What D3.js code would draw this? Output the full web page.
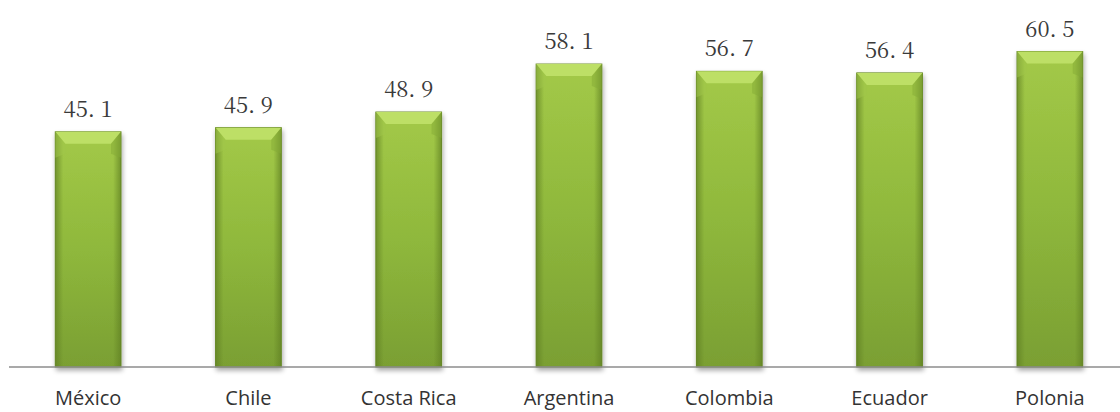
<!DOCTYPE html>
<meta charset="utf-8">
<html>
<head>
    <script src="https://d3js.org/d3.v7.min.js"></script>
    <style>
        body { margin: 0; background: #ffffff; }
        svg { display: block; }
    </style>
</head>
<body>
    <div id="chart"></div>
    <script>
        // data
        var countries = ["México", "Chile", "Costa Rica", "Argentina", "Colombia", "Ecuador", "Polonia"];
        var values = [45.1, 45.9, 48.9, 58.1, 56.7, 56.4, 60.5];
        var valueLabels = ["45. 1", "45. 9", "48. 9", "58. 1", "56. 7", "56. 4", "60. 5"];

        var width = 1120, height = 412;
        var baseY = 367;

        var svg = d3.select("#chart").append("svg")
            .attr("width", width)
            .attr("height", height);

        var defs = svg.append("defs");

        // vertical shading of bar body
        var g1 = defs.append("linearGradient").attr("id", "body").attr("x1", 0).attr("y1", 0).attr("x2", 0).attr("y2", 1);
        g1.append("stop").attr("offset", "0%").attr("stop-color", "#a3c948");
        g1.append("stop").attr("offset", "50%").attr("stop-color", "#8fb83c");
        g1.append("stop").attr("offset", "100%").attr("stop-color", "#7a9f33");

        // darker side edges
        var g2 = defs.append("linearGradient").attr("id", "sides").attr("x1", 0).attr("y1", 0).attr("x2", 1).attr("y2", 0);
        g2.append("stop").attr("offset", "0%").attr("stop-color", "#5f7f22").attr("stop-opacity", 0.7);
        g2.append("stop").attr("offset", "12%").attr("stop-color", "#5f7f22").attr("stop-opacity", 0);
        g2.append("stop").attr("offset", "88%").attr("stop-color", "#5f7f22").attr("stop-opacity", 0);
        g2.append("stop").attr("offset", "100%").attr("stop-color", "#5f7f22").attr("stop-opacity", 0.7);

        var shadow = defs.append("filter").attr("id", "shadow").attr("x", "-20%").attr("y", "-10%").attr("width", "140%").attr("height", "125%");
        shadow.append("feGaussianBlur").attr("in", "SourceAlpha").attr("stdDeviation", 2.5);
        shadow.append("feOffset").attr("dx", 1).attr("dy", 3).attr("result", "b");
        shadow.append("feComponentTransfer").append("feFuncA").attr("type", "linear").attr("slope", 0.35);
        var merge = shadow.append("feMerge");
        merge.append("feMergeNode");
        merge.append("feMergeNode").attr("in", "SourceGraphic");

        var x = d3.scaleBand()
            .domain(countries)
            .range([8, 1130])
            .paddingInner(0.59)
            .paddingOuter(0.295);

        var y = d3.scaleLinear()
            .domain([0, 70])
            .range([baseY, 2]);

        var bw = x.bandwidth();

        var bars = svg.append("g").selectAll("g.bar")
            .data(values)
            .enter().append("g")
            .attr("class", "bar")
            .attr("transform", function (d, i) { return "translate(" + x(countries[i]) + ",0)"; });

        bars.append("rect")
            .attr("x", 0)
            .attr("y", function (d) { return y(d); })
            .attr("width", bw)
            .attr("height", function (d) { return y(0) - y(d); })
            .attr("fill", "url(#body)")
            .attr("stroke", "#6a8c28")
            .attr("stroke-width", 1)
            .attr("filter", "url(#shadow)");

        bars.append("rect")
            .attr("x", 0)
            .attr("y", function (d) { return y(d); })
            .attr("width", bw)
            .attr("height", function (d) { return y(0) - y(d); })
            .attr("fill", "url(#sides)");

        // top bevel
        bars.append("path")
            .attr("d", function (d) {
                var t = y(d);
                return "M0," + t + "L" + bw + "," + t + "L" + (bw - 10) + "," + (t + 12) + "L10," + (t + 12) + "Z";
            })
            .attr("fill", "#bddf66");
        bars.append("path")
            .attr("d", function (d) {
                var t = y(d);
                return "M0," + t + "L10," + (t + 12) + "L10," + (t + 22) + "L0," + (t + 26) + "Z";
            })
            .attr("fill", "#9fc64a").attr("opacity", 0.5);
        bars.append("path")
            .attr("d", function (d) {
                var t = y(d);
                return "M" + bw + "," + t + "L" + (bw - 10) + "," + (t + 12) + "L" + (bw - 10) + "," + (t + 22) + "L" + bw + "," + (t + 26) + "Z";
            })
            .attr("fill", "#83a935").attr("opacity", 0.5);

        // value labels
        svg.append("g").selectAll("text")
            .data(values)
            .enter().append("text")
            .attr("x", function (d, i) { return x(countries[i]) + bw / 2; })
            .attr("y", function (d) { return y(d) - 15; })
            .attr("text-anchor", "middle")
            .attr("font-family", "'Noto Serif CJK SC', 'DejaVu Serif', 'Liberation Serif', serif")
            .attr("font-size", "22px")
            .attr("fill", "#3a3a3a")
            .text(function (d, i) { return valueLabels[i]; });

        // x axis
        var axis = svg.append("g")
            .attr("transform", "translate(0," + baseY + ")")
            .call(d3.axisBottom(x).tickSize(0).tickPadding(24));
        axis.select(".domain")
            .attr("d", "M9,0H" + width)
            .attr("stroke", "#8c8c8c")
            .attr("stroke-width", 1.5);
        axis.selectAll("text")
            .attr("font-family", "'Open Sans', 'Noto Sans', sans-serif")
            .attr("font-size", "20px")
            .attr("fill", "#333");
    </script>
</body>
</html>
